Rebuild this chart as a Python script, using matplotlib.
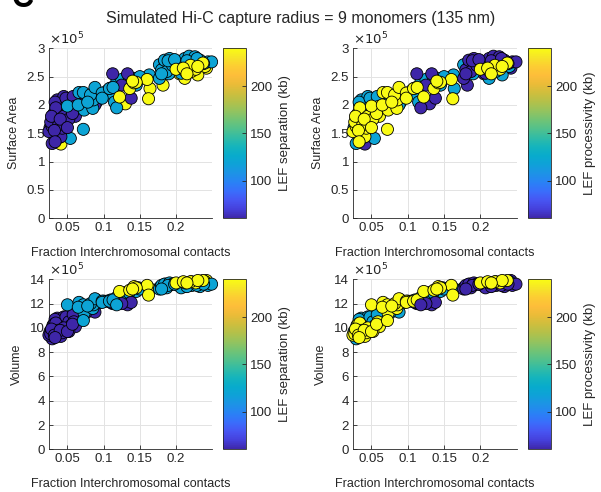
import matplotlib
matplotlib.use("Agg")
import matplotlib.pyplot as plt
from matplotlib.colors import LinearSegmentedColormap, Normalize
import matplotlib.cm as cm

# ---------------- data ----------------
# Each simulation: (fraction interchromosomal contacts, surface area x1e5, volume x1e5)
# grouped by (LEF separation kb, LEF processivity kb)
sep240_proc60 = [(0.041, 1.31, 9.6), (0.182, 2.35, 13.3), (0.130, 2.02, 12.9),
                 (0.242, 2.65, 13.9), (0.205, 2.55, 13.6)]
sep120_proc120 = [(0.054, 1.41, 10.6), (0.060, 2.10, 11.0), (0.075, 2.10, 11.5),
                  (0.090, 2.05, 12.3), (0.100, 2.20, 12.2), (0.105, 2.25, 12.2),
                  (0.120, 2.35, 12.6), (0.130, 2.40, 12.8), (0.141, 2.47, 13.1),
                  (0.148, 2.45, 13.3), (0.163, 2.53, 13.2), (0.177, 2.71, 13.3),
                  (0.233, 2.71, 13.6), (0.118, 2.40, 12.5), (0.145, 2.35, 13.0),
                  (0.190, 2.55, 13.5), (0.056, 1.85, 10.5), (0.063, 2.12, 10.9),
                  (0.085, 2.20, 12.0), (0.095, 2.15, 12.1), (0.110, 2.20, 12.3),
                  (0.125, 2.45, 12.7), (0.135, 2.42, 12.9), (0.150, 2.50, 13.2),
                  (0.185, 2.75, 13.6), (0.200, 2.70, 13.6), (0.115, 2.05, 12.2)]
sep240_proc120 = [(0.212, 2.47, 13.6), (0.230, 2.53, 13.7), (0.164, 2.29, 13.2),
                  (0.221, 2.59, 13.8), (0.240, 2.68, 13.8)]
sep60_proc120 = [(0.029, 1.32, 9.1), (0.036, 2.09, 10.8), (0.040, 2.00, 10.5),
                 (0.045, 2.15, 10.9), (0.050, 2.10, 10.8), (0.057, 2.05, 11.0),
                 (0.030, 1.82, 10.2), (0.042, 1.90, 10.4), (0.047, 1.72, 10.1),
                 (0.062, 1.95, 10.9), (0.066, 2.02, 11.2), (0.070, 2.05, 11.4),
                 (0.080, 2.12, 11.5), (0.088, 2.00, 11.3), (0.039, 1.43, 9.4),
                 (0.026, 1.60, 9.7), (0.033, 2.05, 10.7), (0.048, 2.12, 10.9),
                 (0.052, 1.85, 10.5), (0.058, 2.15, 11.1), (0.075, 1.98, 11.2),
                 (0.034, 1.50, 9.6), (0.045, 1.60, 9.9)]
sep60_proc240 = [(0.0245, 1.53, 9.4), (0.029, 1.62, 9.7), (0.0315, 1.85, 10.3),
                 (0.036, 1.75, 10.0), (0.041, 1.44, 9.3), (0.043, 1.59, 9.6),
                 (0.048, 1.68, 9.9), (0.055, 1.92, 10.2), (0.059, 1.97, 10.5),
                 (0.061, 1.80, 10.1), (0.027, 1.70, 9.5), (0.034, 1.95, 10.4),
                 (0.045, 1.80, 10.0), (0.038, 1.65, 9.8), (0.052, 1.75, 9.7),
                 (0.028, 1.80, 9.9), (0.032, 1.55, 9.4), (0.040, 1.75, 9.8),
                 (0.050, 1.60, 9.7), (0.057, 1.85, 10.3), (0.033, 1.35, 9.2)]
sep60_proc60 = [(0.1125, 2.55, 12.0), (0.133, 2.55, 11.9), (0.138, 2.12, 12.1),
                (0.110, 2.30, 12.1), (0.125, 2.35, 12.0)]
sep120_proc240 = [(0.050, 1.98, 11.9), (0.066, 2.22, 12.1), (0.072, 2.22, 11.9),
                  (0.073, 1.91, 11.2), (0.072, 1.57, 10.6), (0.085, 1.94, 11.6),
                  (0.086, 2.09, 11.9), (0.082, 2.18, 12.0), (0.088, 2.31, 12.4),
                  (0.098, 2.21, 12.2), (0.098, 2.12, 12.1), (0.108, 2.29, 12.2),
                  (0.113, 2.31, 12.3), (0.065, 2.00, 11.7), (0.078, 2.05, 11.8)]
sep120_proc60 = [(0.177, 2.47, 13.2), (0.180, 2.62, 13.5), (0.184, 2.79, 13.6),
                 (0.191, 2.82, 13.7), (0.187, 2.59, 13.3), (0.203, 2.76, 13.5),
                 (0.212, 2.82, 13.4), (0.218, 2.86, 13.5), (0.226, 2.85, 13.6),
                 (0.233, 2.79, 13.4), (0.244, 2.76, 13.5), (0.249, 2.76, 13.6),
                 (0.207, 2.56, 13.3), (0.118, 1.95, 11.9), (0.195, 2.70, 13.6),
                 (0.222, 2.72, 13.5), (0.189, 2.78, 13.5), (0.198, 2.80, 13.6),
                 (0.215, 2.78, 13.4), (0.229, 2.82, 13.5), (0.238, 2.73, 13.6),
                 (0.180, 2.55, 13.2)]
sep240_proc240 = [(0.122, 2.14, 13.0), (0.136, 2.29, 13.1), (0.142, 2.39, 13.4),
                  (0.160, 2.45, 13.5), (0.162, 2.11, 12.7), (0.200, 2.63, 13.7),
                  (0.213, 2.59, 13.7), (0.227, 2.63, 13.7), (0.237, 2.74, 13.9),
                  (0.220, 2.70, 13.8), (0.145, 2.40, 13.3), (0.210, 2.65, 13.8),
                  (0.230, 2.68, 13.9), (0.215, 2.55, 13.7), (0.140, 2.42, 13.2)]

# drawing order of the groups, with their (separation, processivity) in kb
groups = [
    (sep240_proc60, 240, 60), (sep120_proc120, 120, 120), (sep240_proc120, 240, 120),
    (sep60_proc120, 60, 120), (sep60_proc240, 60, 240), (sep60_proc60, 60, 60),
    (sep120_proc240, 120, 240), (sep120_proc60, 120, 60), (sep240_proc240, 240, 240),
]

title = "Simulated Hi-C capture radius = 9 monomers (135 nm)"
xlabel = "Fraction Interchromosomal contacts"
x_ticks = [0.05, 0.1, 0.15, 0.2]
x_tick_labels = ["0.05", "0.1", "0.15", "0.2"]
sa_ticks = [0, 0.5, 1, 1.5, 2, 2.5, 3]
sa_tick_labels = ["0", "0.5", "1", "1.5", "2", "2.5", "3"]
vol_ticks = [0, 2, 4, 6, 8, 10, 12, 14]
cbar_ticks = [100, 150, 200]

# flatten groups into per-point arrays
frac_inter, surface_area, volume, lef_separation, lef_processivity = [], [], [], [], []
for pts, sep, proc in groups:
    for fx, sa, vol in pts:
        frac_inter.append(fx)
        surface_area.append(sa)
        volume.append(vol)
        lef_separation.append(sep)
        lef_processivity.append(proc)

# ---------------- parula-like colormap ----------------
parula_anchors = [
    (0.2422, 0.1504, 0.6603), (0.2720, 0.2500, 0.8600), (0.2805, 0.3350, 0.9500),
    (0.2250, 0.4300, 0.9850), (0.1600, 0.5100, 0.9600), (0.1125, 0.5771, 0.8996),
    (0.0600, 0.6300, 0.8500), (0.0300, 0.6700, 0.8000), (0.0800, 0.7050, 0.7400),
    (0.1900, 0.7350, 0.6500), (0.3200, 0.7550, 0.5500), (0.4429, 0.7661, 0.4590),
    (0.5800, 0.7650, 0.3700), (0.7000, 0.7550, 0.2900), (0.8100, 0.7450, 0.2400),
    (0.9200, 0.7350, 0.2200), (0.9903, 0.7419, 0.2274), (0.9900, 0.8000, 0.2000),
    (0.9641, 0.8937, 0.1580), (0.9769, 0.9839, 0.0805),
]
parula = LinearSegmentedColormap.from_list("parula", parula_anchors)
norm = Normalize(vmin=60, vmax=240)

# ---------------- figure ----------------
plt.rcParams["font.family"] = ["Liberation Sans", "DejaVu Sans"]
W, H = 601, 492
fig = plt.figure(figsize=(W / 100, H / 100), dpi=100)

TXT = "#262626"


def px_rect(l, t, r, b):
    return [l / W, 1 - b / H, (r - l) / W, (b - t) / H]


panels = [
    (px_rect(49.3, 48.3, 212.3, 218.3), px_rect(222.7, 48.3, 246, 218.3),
     surface_area, "Surface Area", lef_separation, "LEF separation (kb)",
     sa_ticks, sa_tick_labels, (0, 3)),
    (px_rect(353.3, 48.3, 516.7, 218.3), px_rect(527.7, 48.3, 550.7, 218.3),
     surface_area, "Surface Area", lef_processivity, "LEF processivity (kb)",
     sa_ticks, sa_tick_labels, (0, 3)),
    (px_rect(49.3, 279.3, 212.3, 449.3), px_rect(222.7, 279.3, 246, 449.3),
     volume, "Volume", lef_separation, "LEF separation (kb)",
     vol_ticks, [str(v) for v in vol_ticks], (0, 14)),
    (px_rect(353.3, 279.3, 516.7, 449.3), px_rect(527.7, 279.3, 550.7, 449.3),
     volume, "Volume", lef_processivity, "LEF processivity (kb)",
     vol_ticks, [str(v) for v in vol_ticks], (0, 14)),
]

for rect, crect, ydata, ylab, cdata, clab, yt, ytl, ylim in panels:
    ax = fig.add_axes(rect)
    ax.scatter(frac_inter, ydata, c=cdata, cmap=parula, norm=norm, s=76,
               edgecolors="black", linewidths=0.6, clip_on=False, zorder=3)
    ax.set_xlim(0.025, 0.25)
    ax.set_ylim(*ylim)
    ax.set_xticks(x_ticks)
    ax.set_xticklabels(x_tick_labels)
    ax.set_yticks(yt)
    ax.set_yticklabels(ytl)
    ax.grid(True, color="#e3e3e3", linewidth=0.7, zorder=0)
    ax.set_axisbelow(True)
    for side in ("top", "right"):
        ax.spines[side].set_visible(False)
    for side in ("left", "bottom"):
        ax.spines[side].set_color(TXT)
        ax.spines[side].set_linewidth(0.6)
    ax.tick_params(direction="in", length=3, width=0.6, colors=TXT,
                   labelsize=9.5, labelcolor=TXT, pad=3)
    ax.set_xlabel(xlabel, fontsize=9, color=TXT, labelpad=9)
    ax.set_ylabel(ylab, fontsize=9, color=TXT, labelpad=5)
    ax.text(0.0, 1.005, r"$\times10^5$", transform=ax.transAxes, ha="left",
            va="bottom", fontsize=9.5, color=TXT)

    cax = fig.add_axes(crect)
    cb = fig.colorbar(cm.ScalarMappable(norm=norm, cmap=parula), cax=cax)
    cb.set_ticks(cbar_ticks)
    cb.outline.set_edgecolor(TXT)
    cb.outline.set_linewidth(0.6)
    cax.tick_params(direction="in", length=3, width=0.6, colors=TXT,
                    labelsize=9.5, labelcolor=TXT, pad=3)
    cb.set_label(clab, fontsize=9.5, color=TXT, labelpad=5)

fig.text(0.5, 1 - 18 / H, title, ha="center", va="center", fontsize=11.5, color=TXT)
fig.text(12 / W, 1 - 7 / H, "C", ha="left", va="baseline", fontsize=22,
         fontweight="bold", color="black")

fig.savefig("out.png", dpi=100)
